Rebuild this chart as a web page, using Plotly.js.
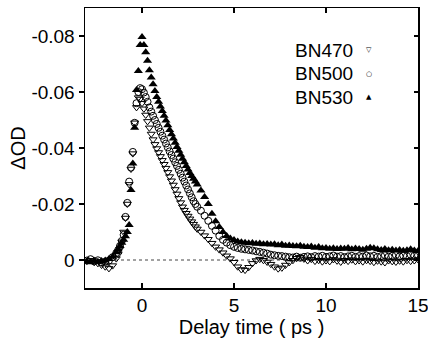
<!DOCTYPE html>
<html>
<head>
<meta charset="utf-8">
<script src="https://cdn.plot.ly/plotly-3.0.1.min.js"></script>
<style>html,body{margin:0;padding:0;background:#fff;}#chart{width:428px;height:341px;}</style>
</head>
<body>
<div id="chart"></div>
<script>
// Delay time (ps)
const delay = [
  -3.0,-2.8,-2.6,-2.4,-2.2,-2.0,-1.8,-1.6,-1.4,
  -1.3,-1.2,-1.1,-1.0,-0.9,-0.8,-0.7,-0.6,-0.5,-0.4,-0.3,-0.2,-0.1,0.0,
  0.1,0.2,0.3,0.4,0.5,0.6,0.7,0.8,0.9,1.0,1.1,1.2,1.3,1.4,1.5,1.6,1.7,1.8,1.9,2.0,
  2.1,2.2,2.3,2.4,2.5,2.6,2.7,2.8,2.9,3.0,
  3.2,3.4,3.6,3.8,4.0,4.2,4.4,4.6,4.8,5.0,5.2,5.4,5.6,5.8,6.0,6.2,6.4,6.6,6.8,7.0,
  7.2,7.4,7.6,7.8,8.0,8.2,8.4,8.6,8.8,9.0,9.2,9.4,9.6,9.8,10.0,10.2,10.4,10.6,10.8,11.0,
  11.2,11.4,11.6,11.8,12.0,12.2,12.4,12.6,12.8,13.0,13.2,13.4,13.6,13.8,14.0,14.2,14.4,14.6,14.8,15.0
];

const bn530 = [
  0.0005,0.0008,0.0003,0.0006,0.0004,0.0002,-0.0004,-0.0012,-0.0028,
  -0.0038,-0.0050,-0.0062,-0.0072,-0.0085,-0.0100,-0.0125,-0.0250,-0.0345,-0.0472,-0.0607,-0.0675,-0.0768,-0.0796,
  -0.0768,-0.0742,-0.0712,-0.0678,-0.0652,-0.0628,-0.0604,-0.0582,-0.0565,-0.0548,-0.0532,-0.0515,-0.0498,-0.0481,-0.0464,-0.0449,-0.0434,-0.0419,-0.0404,-0.0390,
  -0.0376,-0.0362,-0.0349,-0.0336,-0.0323,-0.0311,-0.0300,-0.0290,-0.0280,-0.0270,
  -0.0248,-0.0225,-0.0200,-0.0165,-0.0138,-0.0118,-0.0100,-0.0086,-0.0077,-0.0071,-0.0066,-0.0063,-0.0062,-0.0060,-0.0061,-0.0058,-0.0059,-0.0056,-0.0057,-0.0055,
  -0.0056,-0.0053,-0.0055,-0.0051,-0.0052,-0.0050,-0.0049,-0.0051,-0.0047,-0.0046,-0.0048,-0.0044,-0.0046,-0.0042,-0.0043,-0.0040,-0.0042,-0.0039,-0.0041,-0.0040,
  -0.0043,-0.0038,-0.0041,-0.0039,-0.0037,-0.0040,-0.0044,-0.0042,-0.0038,-0.0036,-0.0039,-0.0035,-0.0037,-0.0034,-0.0036,-0.0033,-0.0035,-0.0038,-0.0034,-0.0032
];

const bn500 = [
  0.0002,-0.0003,0.0005,0.0001,0.0009,0.0006,0.0002,-0.0010,-0.0025,
  -0.0035,-0.0050,-0.0068,-0.0090,-0.0154,-0.0204,-0.0280,-0.0330,-0.0386,-0.0490,-0.0560,-0.0600,-0.0614,-0.0610,
  -0.0598,-0.0582,-0.0565,-0.0545,-0.0530,-0.0515,-0.0500,-0.0486,-0.0472,-0.0458,-0.0444,-0.0430,-0.0416,-0.0402,-0.0388,-0.0375,-0.0362,-0.0349,-0.0336,-0.0322,
  -0.0308,-0.0294,-0.0280,-0.0266,-0.0252,-0.0238,-0.0224,-0.0210,-0.0200,-0.0190,
  -0.0176,-0.0158,-0.0140,-0.0122,-0.0105,-0.0086,-0.0072,-0.0062,-0.0053,-0.0047,-0.0043,-0.0040,-0.0038,-0.0036,-0.0034,-0.0031,-0.0029,-0.0026,-0.0023,-0.0019,
  -0.0017,-0.0015,-0.0014,-0.0012,-0.0010,-0.0009,-0.0012,-0.0008,-0.0011,-0.0013,-0.0010,-0.0014,-0.0012,-0.0015,-0.0011,-0.0013,-0.0016,-0.0012,-0.0014,-0.0010,
  -0.0013,-0.0015,-0.0011,-0.0014,-0.0012,-0.0016,-0.0013,-0.0015,-0.0011,-0.0014,-0.0017,-0.0012,-0.0015,-0.0018,-0.0013,-0.0016,-0.0014,-0.0019,-0.0015,-0.0017
];

const bn470 = [
  0.0003,0.0001,0.0008,0.0012,0.0018,0.0024,0.0030,0.0020,-0.0005,
  -0.0020,-0.0040,-0.0065,-0.0100,-0.0150,-0.0200,-0.0270,-0.0325,-0.0380,-0.0490,-0.0545,-0.0580,-0.0575,-0.0560,
  -0.0540,-0.0518,-0.0495,-0.0472,-0.0450,-0.0430,-0.0413,-0.0398,-0.0384,-0.0370,-0.0356,-0.0342,-0.0328,-0.0313,-0.0298,-0.0283,-0.0268,-0.0252,-0.0236,-0.0220,
  -0.0205,-0.0190,-0.0178,-0.0167,-0.0157,-0.0147,-0.0137,-0.0128,-0.0119,-0.0111,
  -0.0100,-0.0087,-0.0074,-0.0060,-0.0047,-0.0037,-0.0026,-0.0015,-0.0005,0.0008,0.0024,0.0034,0.0036,0.0026,0.0012,0.0002,-0.0003,0.0001,0.0007,0.0015,
  0.0024,0.0031,0.0028,0.0018,0.0009,0.0001,-0.0006,-0.0010,-0.0004,0.0002,-0.0003,0.0004,0.0001,0.0006,0.0002,0.0005,-0.0002,0.0003,0.0007,0.0001,
  0.0004,-0.0001,0.0005,0.0002,0.0006,0.0001,0.0004,0.0008,0.0003,0.0006,0.0009,0.0002,0.0005,0.0007,0.0003,0.0006,0.0001,0.0004,0.0002,-0.0002
];

const seriesNames = ['BN470', 'BN500', 'BN530'];
const legendGlyphs = ['\u25BD', '\u25CB', '\u25B2'];

const xTickVals = [0, 5, 10, 15];
const xTickText = ['0', '5', '10', '15'];
const yTickVals = [0, -0.02, -0.04, -0.06, -0.08];
const yTickText = ['0', '-0.02', '-0.04', '-0.06', '-0.08'];

const FONT = 'Liberation Sans, Arial, sans-serif';

const traces = [
  {x: delay, y: bn530, name: seriesNames[2], type: 'scatter', mode: 'markers',
   marker: {symbol: 'triangle-up', size: 8, color: '#000'}, showlegend: false},
  {x: delay, y: bn500, name: seriesNames[1], type: 'scatter', mode: 'markers',
   marker: {symbol: 'circle-open', size: 7, color: '#000', line: {width: 1, color: '#000'}}, showlegend: false},
  {x: delay, y: bn470, name: seriesNames[0], type: 'scatter', mode: 'markers',
   marker: {symbol: 'triangle-down-open', size: 7, color: '#000', line: {width: 1, color: '#000'}}, showlegend: false},
  // invisible helper to carry the right-hand mirrored ticks
  {x: [delay[0]], y: [bn470[0]], yaxis: 'y2', mode: 'markers', marker: {opacity: 0}, showlegend: false, hoverinfo: 'skip'}
];

const legendRowsY = [0.85, 0.765, 0.682];
const annotations = [];
for (let i = 0; i < seriesNames.length; i++) {
  annotations.push({xref: 'paper', yref: 'paper', x: 0.81, y: legendRowsY[i], xanchor: 'right', yanchor: 'middle',
    text: seriesNames[i], showarrow: false, font: {family: FONT, size: 19, color: '#000'}});
  annotations.push({xref: 'paper', yref: 'paper', x: 0.853, y: legendRowsY[i], xanchor: 'center', yanchor: 'middle',
    text: legendGlyphs[i], showarrow: false, font: {family: 'DejaVu Sans', size: 7, color: '#000'}});
}

const layout = {
  width: 428, height: 341,
  margin: {l: 85, r: 10, t: 8, b: 53},
  paper_bgcolor: '#fff', plot_bgcolor: '#fff',
  font: {family: FONT, size: 18, color: '#000'},
  showlegend: false,
  xaxis: {
    range: [-3.1, 15], tickvals: xTickVals, ticktext: xTickText,
    ticks: 'inside', ticklen: 5, tickwidth: 1.2, tickcolor: '#000',
    showline: true, linecolor: '#000', linewidth: 1.5, mirror: 'ticks',
    showgrid: false, zeroline: false, ticklabeloverflow: 'allow',
    tickfont: {family: FONT, size: 19},
    title: {text: 'Delay time ( ps )', font: {family: FONT, size: 20}, standoff: 4}
  },
  yaxis: {
    range: [0.01, -0.09], tickvals: yTickVals, ticktext: yTickText,
    ticks: 'outside', ticklen: 5, tickwidth: 1.2, tickcolor: '#000',
    showline: true, linecolor: '#000', linewidth: 1.5, mirror: true,
    showgrid: false, zeroline: false,
    tickfont: {family: FONT, size: 19},
    title: {text: '\u0394OD', font: {family: FONT, size: 20}, standoff: 0}
  },
  yaxis2: {
    overlaying: 'y', side: 'right', range: [0.01, -0.09], tickvals: yTickVals,
    showticklabels: false, ticks: 'inside', ticklen: 4, tickwidth: 1.2, tickcolor: '#000',
    showline: false, showgrid: false, zeroline: false
  },
  shapes: [
    {type: 'line', xref: 'x', yref: 'y', x0: -3.1, x1: 15, y0: 0, y1: 0, layer: 'below',
     line: {color: '#444', width: 1, dash: 'dot'}}
  ],
  annotations: annotations
};

Plotly.newPlot('chart', traces, layout, {staticPlot: true, displayModeBar: false});
</script>
</body>
</html>
